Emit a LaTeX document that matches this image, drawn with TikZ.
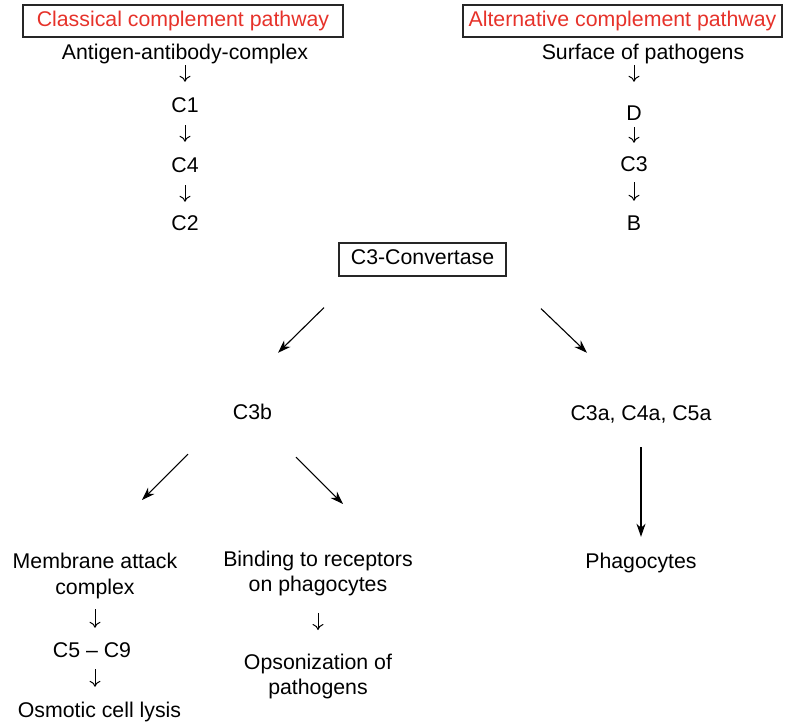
\documentclass[tikz,border=0pt]{standalone}
\usepackage{fontspec}
\setmainfont{Liberation Sans}
\usepackage{xcolor}
\usepackage{tikz}
\usetikzlibrary{calc, arrows.meta, positioning}
\definecolor{pathred}{RGB}{230,50,42}
\tikzset{
    textnode/.style = {draw=none, fill=none, rectangle, inner sep=0em, anchor=base,
      text height=15.3pt, text depth=4.6pt, font=\fontsize{21.3}{25.6}\selectfont},
    linesnode/.style = {draw=none, fill=none, rectangle, inner sep=0em, anchor=north,
      align=center, font=\fontsize{21.3}{25.6}\selectfont},
    shapenode/.style = {draw=black!85, line width=1.2pt, rectangle, inner sep=0em,
      text height=15.3pt, text depth=4.6pt, font=\fontsize{21.3}{25.6}\selectfont},
    connect/.style = {black, line width=1.1pt, -{Stealth[length=13pt, width=9pt, inset=4pt]}},
    stepline/.style = {black, line width=1pt, -{Computer Modern Rightarrow[length=6pt, width=11pt]}}
}

\begin{document}
\begin{tikzpicture}[x=1pt, y=-1pt]
    \useasboundingbox (0,0) rectangle (785,722);

    \node [shapenode, name=classical, minimum width=320pt, minimum height=32pt, text=pathred] at (183,21) {Classical complement pathway};
    \node [textnode, name=antigen] at (185,60) {Antigen-antibody-complex};
    \node [textnode, name=c1] at (185,113) {C1};
    \node [textnode, name=c4] at (185,173) {C4};
    \node [textnode, name=c2] at (185,231) {C2};
    \draw [stepline, shorten <=0.6pt, shorten >=15.7pt] (antigen) -- (c1);
    \draw [stepline, shorten <=7.4pt, shorten >=15.7pt] (c1) -- (c4);
    \draw [stepline, shorten <=7.4pt, shorten >=13.7pt] (c4) -- (c2);

    \node [shapenode, name=alternative, minimum width=319pt, minimum height=32pt, text=pathred] at (622.5,21) {Alternative complement pathway};
    \node [textnode, name=surface] at (643,60) {Surface of pathogens};
    \node [textnode, name=d] at (634,121) {D};
    \node [textnode, name=c3] at (634,172) {C3};
    \node [textnode, name=b] at (634,231) {B};
    \draw [stepline, shorten <=0pt, shorten >=23.7pt] (surface.south -| d) -- (d);
    \draw [stepline, shorten <=1.4pt, shorten >=13.7pt] (d) -- (c3);
    \draw [stepline, shorten <=5.4pt, shorten >=14.7pt] (c3) -- (b);

    \node [shapenode, name=convertase, minimum width=167pt, minimum height=33pt] at (422.5,259.5) {C3-Convertase};
    \node [textnode, name=c3b] at (252.5,419) {C3b};
    \node [textnode, name=c3a] at (641,420) {C3a, C4a, C5a};
    \node [textnode, name=phagocytes] at (641,568) {Phagocytes};
    \draw [connect] ($(convertase.south)+(-98.5,31)$) -- ($(c3b.north)+(25.5,-50.7)$);
    \draw [connect] ($(convertase.south)+(118.5,32)$) -- ($(c3a.north)+(-54,-51.7)$);
    \draw [connect, shorten <=22.4pt, shorten >=15.7pt] (c3a) -- (phagocytes);

    \node [linesnode, name=membrane] at (95,553) {Membrane attack\\complex};
    \node [textnode, name=c5c9] at (92,657) {C5 \textendash{} C9};
    \node [textnode, name=osmotic] at (99.5,717) {Osmotic cell lysis};
    \draw [connect] ($(c3b.south)+(-64.5,30.4)$) -- ($(membrane.north)+(47,-53)$);
    \draw [stepline, shorten <=10.5pt, shorten >=13.7pt] (membrane.south) -- (membrane.south |- c5c9.north);
    \draw [stepline, shorten <=7.4pt, shorten >=14.7pt] (c5c9.south -| membrane) -- (membrane |- osmotic.north);

    \node [linesnode, name=binding] at (318,550.5) {Binding to receptors\\on phagocytes};
    \node [linesnode, name=opsonization] at (318,653.5) {Opsonization of\\pathogens};
    \draw [connect] ($(c3b.south)+(43.5,33.4)$) -- ($(binding.north)+(25,-46.5)$);
    \draw [stepline, shorten <=16.5pt, shorten >=23.5pt] (binding) -- (opsonization);
\end{tikzpicture}
\end{document}
